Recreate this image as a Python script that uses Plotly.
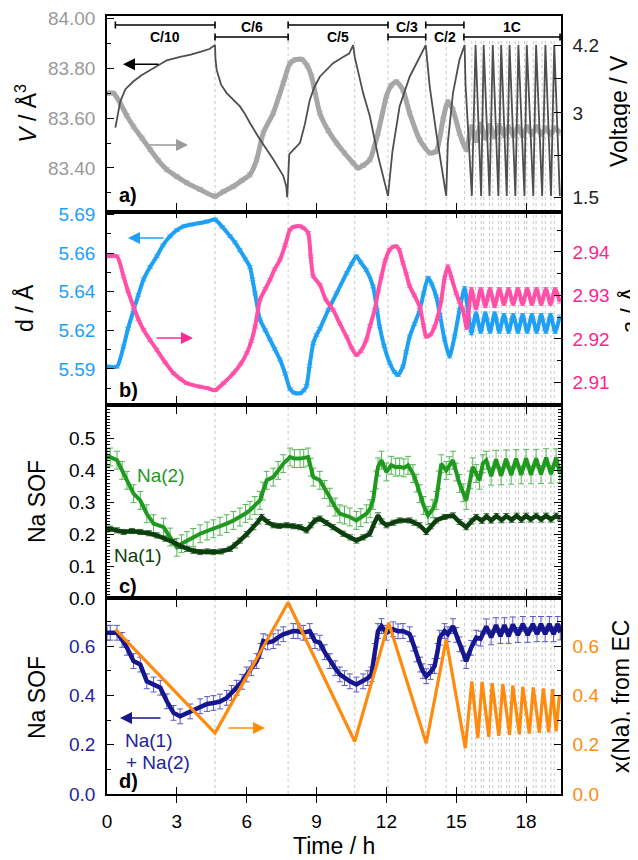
import plotly.graph_objects as go

# ---------------- data ----------------
# Panel a: unit-cell volume (left axis) and cell voltage (right axis)
t_vol = [0.0, 0.28, 0.57, 0.85, 1.14, 1.5, 1.86, 2.2, 2.57, 3.0, 3.43, 4.0, 4.64, 5.0, 5.43, 5.8, 6.14, 6.43, 6.71,
         7.14, 7.57, 7.86, 8.1, 8.36, 8.6, 8.79, 9.14, 9.5, 9.86, 10.2, 10.57, 10.78, 11.0, 11.29, 11.64, 12.0, 12.2,
         12.43, 12.71, 13.0, 13.43, 13.86, 14.14, 14.43, 14.64, 14.86, 15.14, 15.43,
         15.65, 15.85, 16.05, 16.25, 16.45, 16.65, 16.85, 17.05, 17.25, 17.45, 17.65, 17.85, 18.05, 18.25, 18.45,
         18.65, 18.85, 19.05, 19.25, 19.45]
vol = [83.70, 83.70, 83.66, 83.61, 83.566, 83.52, 83.473, 83.43, 83.393, 83.365, 83.34, 83.313, 83.286, 83.305,
       83.326, 83.35, 83.373, 83.433, 83.54, 83.62, 83.74, 83.82, 83.835, 83.836, 83.81, 83.766, 83.62, 83.55, 83.50,
       83.46, 83.42, 83.40, 83.41, 83.433, 83.54, 83.687, 83.73, 83.746, 83.713, 83.62, 83.513, 83.46, 83.466, 83.593,
       83.666, 83.633, 83.54, 83.473,
       83.565, 83.51, 83.575, 83.52, 83.57, 83.525, 83.57, 83.53, 83.565, 83.53, 83.565, 83.53, 83.565, 83.535,
       83.565, 83.535, 83.56, 83.535, 83.56, 83.54]
vol_err = 0.008

t_volt = [0.36, 0.45, 0.57, 0.79, 1.14, 1.5, 1.86, 2.2, 2.57, 3.14, 3.6, 4.0, 4.4, 4.64, 4.66, 4.71, 4.9, 5.14, 5.45,
          5.71, 5.9, 6.14, 6.57, 7.14, 7.57, 7.7, 7.74, 7.83, 8.29, 8.5, 8.71, 8.9, 9.14, 9.71, 10.14, 10.4, 10.57,
          10.64, 11.0, 11.29, 11.64, 12.0, 12.07, 12.26, 12.57, 13.0, 13.43, 13.69, 13.86, 14.14, 14.5, 14.57, 14.64,
          14.86, 15.14, 15.36, 15.40, 15.67, 15.83, 16.07, 16.18, 16.43, 16.57, 16.81, 16.93, 17.17, 17.29, 17.54,
          17.67, 17.93, 18.03, 18.31, 18.43, 18.69, 18.83, 19.07, 19.21, 19.45]
volt = [2.74, 2.95, 3.2, 3.42, 3.56, 3.67, 3.76, 3.85, 3.93, 3.99, 4.03, 4.08, 4.13, 4.2, 3.95, 3.76, 3.5, 3.35, 3.22,
        3.115, 3.0, 2.82, 2.53, 2.18, 1.886, 1.7, 1.505, 2.27, 2.47, 2.8, 3.23, 3.45, 3.64, 3.88, 3.99, 4.05, 4.2,
        3.99, 3.35, 2.94, 2.24, 1.65, 1.53, 2.32, 3.12, 3.64, 3.99, 4.2, 3.47, 2.65, 1.71, 1.53, 2.47, 3.35, 3.94,
        4.2, 3.50, 1.53, 4.2, 1.53, 4.2, 1.53, 4.2, 1.53, 4.2, 1.53, 4.2, 1.53, 4.2, 1.53, 4.2, 1.53, 4.2, 1.53,
        4.2, 1.53, 4.2, 1.53]

# Panel b: d spacing (left) and lattice parameter a (right)
t_d = [0.0, 0.43, 0.71, 0.9, 1.14, 1.35, 1.57, 1.85, 2.14, 2.4, 2.71, 3.0, 3.29, 3.6, 4.0, 4.3, 4.64, 4.95, 5.29, 5.5,
       5.71, 5.95, 6.14, 6.25, 6.36, 6.57, 6.8, 7.0, 7.2, 7.43, 7.65, 7.86, 8.05, 8.29, 8.45, 8.57, 8.7, 8.86, 9.0,
       9.14, 9.5, 9.86, 10.29, 10.5, 10.71, 10.9, 11.14, 11.43, 11.6, 11.71, 11.9, 12.14, 12.35, 12.5, 12.71, 12.85,
       13.0, 13.2, 13.43, 13.6, 13.79, 13.95, 14.14, 14.3, 14.5, 14.71, 14.93, 15.14, 15.36, 15.5,
       15.65, 15.85, 16.05, 16.25, 16.45, 16.65, 16.85, 17.05, 17.25, 17.45, 17.65, 17.85, 18.05, 18.25, 18.45,
       18.65, 18.85, 19.05, 19.25, 19.45]
d_val = [5.5915, 5.5915, 5.6045, 5.616, 5.628, 5.638, 5.648, 5.656, 5.663, 5.670, 5.676, 5.680, 5.6824, 5.6835,
         5.6846, 5.6855, 5.6868, 5.682, 5.676, 5.672, 5.667, 5.661, 5.656, 5.648, 5.639, 5.622, 5.615, 5.609, 5.603,
         5.596, 5.587, 5.577, 5.5745, 5.5742, 5.576, 5.579, 5.592, 5.6067, 5.612, 5.616, 5.628, 5.639, 5.652, 5.658,
         5.663, 5.659, 5.654, 5.6434, 5.628, 5.6175, 5.605, 5.594, 5.588, 5.586, 5.5915, 5.601, 5.611, 5.619, 5.628,
         5.639, 5.649, 5.645, 5.637, 5.625, 5.609, 5.598, 5.611, 5.628, 5.6424, 5.628,
         5.613, 5.626, 5.614, 5.626, 5.614, 5.626, 5.614, 5.625, 5.614, 5.625, 5.614, 5.625, 5.614, 5.625, 5.614,
         5.625, 5.614, 5.625, 5.614, 5.624]
d_err = 0.0009

t_a = [0.0, 0.43, 0.71, 0.9, 1.14, 1.35, 1.57, 1.85, 2.14, 2.5, 2.86, 3.15, 3.43, 4.0, 4.3, 4.64, 5.0, 5.43, 5.75, 6.0,
       6.2, 6.36, 6.57, 6.8, 7.0, 7.2, 7.43, 7.65, 7.86, 8.05, 8.29, 8.45, 8.64, 8.75, 8.86, 9.14, 9.4, 9.71, 10.0,
       10.29, 10.5, 10.71, 10.9, 11.14, 11.3, 11.5, 11.65, 11.79, 11.95, 12.14, 12.3, 12.43, 12.55, 12.71, 12.85,
       13.0, 13.2, 13.43, 13.6, 13.71, 13.9, 14.07, 14.2, 14.36, 14.5, 14.64, 14.8, 15.0, 15.14, 15.29, 15.45,
       15.65, 15.85, 16.05, 16.25, 16.45, 16.65, 16.85, 17.05, 17.25, 17.45, 17.65, 17.85, 18.05, 18.25, 18.45,
       18.65, 18.85, 19.05, 19.25, 19.45]
a_val = [2.939, 2.939, 2.9344, 2.931, 2.9274, 2.9245, 2.9221, 2.9197, 2.9175, 2.9146, 2.9121, 2.9108, 2.9098, 2.909,
         2.9087, 2.9082, 2.9098, 2.9121, 2.9143, 2.9167, 2.9195, 2.9228, 2.929, 2.9315, 2.9336, 2.936, 2.9382,
         2.9415, 2.9451, 2.9458, 2.9459, 2.9455, 2.9444, 2.939, 2.9344, 2.9325, 2.929, 2.9267, 2.9235, 2.9205, 2.918,
         2.9163, 2.9172, 2.9198, 2.923, 2.9267, 2.931, 2.9344, 2.938, 2.9405, 2.9412, 2.9413, 2.9405, 2.9375, 2.935,
         2.9321, 2.93, 2.9274, 2.923, 2.9205, 2.921, 2.9228, 2.925, 2.929, 2.934, 2.9367, 2.934, 2.9305, 2.9285,
         2.9267, 2.9225,
         2.9315, 2.927, 2.9315, 2.9275, 2.9315, 2.9275, 2.9315, 2.928, 2.9315, 2.928, 2.9315, 2.928, 2.9315, 2.928,
         2.9315, 2.928, 2.9315, 2.928, 2.9315, 2.9285]
a_err = 0.0003

# Panel c: site occupancy factors
t_na2 = [0.0, 0.14, 0.43, 0.65, 0.86, 1.14, 1.43, 1.71, 2.0, 2.43, 2.71, 3.0, 3.2, 3.43, 3.7, 4.0, 4.3, 4.57, 4.85,
         5.14, 5.43, 5.71, 5.95, 6.14, 6.35, 6.57, 6.7, 6.86, 7.14, 7.35, 7.57, 7.86, 8.05, 8.29, 8.45, 8.64, 8.75,
         8.86, 9.14, 9.35, 9.57, 9.8, 10.0, 10.2, 10.43, 10.71, 10.9, 11.14, 11.3, 11.43, 11.55, 11.64, 11.79, 12.0,
         12.21, 12.4, 12.57, 12.75, 12.93, 13.14, 13.3, 13.43, 13.6, 13.79, 14.0, 14.14, 14.25, 14.36, 14.57, 14.7,
         14.86, 15.0, 15.14, 15.3, 15.43, 15.6, 15.71, 15.86, 16.0, 16.14, 16.29, 16.5, 16.71, 16.93, 17.14, 17.36,
         17.57, 17.79, 18.0, 18.21, 18.43, 18.64, 18.86, 19.07, 19.29, 19.45]
na2 = [0.44, 0.442, 0.432, 0.40, 0.369, 0.327, 0.306, 0.264, 0.233, 0.222, 0.191, 0.159, 0.17, 0.180, 0.19, 0.2015,
       0.21, 0.217, 0.225, 0.233, 0.243, 0.254, 0.265, 0.275, 0.29, 0.306, 0.335, 0.369, 0.379, 0.40, 0.421, 0.442,
       0.437, 0.437, 0.438, 0.442, 0.41, 0.379, 0.369, 0.34, 0.316, 0.285, 0.264, 0.26, 0.254, 0.243, 0.252, 0.264,
       0.28, 0.306, 0.37, 0.411, 0.432, 0.395, 0.416, 0.41, 0.411, 0.408, 0.416, 0.390, 0.36, 0.327, 0.29, 0.259,
       0.28, 0.306, 0.37, 0.421, 0.400, 0.415, 0.432, 0.395, 0.359, 0.33, 0.306, 0.37, 0.411, 0.39, 0.369, 0.421,
       0.432, 0.382, 0.435, 0.383, 0.436, 0.385, 0.437, 0.386, 0.438, 0.386, 0.438, 0.387, 0.44, 0.388, 0.44, 0.39]
na2_err = 0.028

t_na1 = [0.0, 0.14, 0.43, 0.71, 1.07, 1.43, 1.8, 2.14, 2.5, 2.86, 3.15, 3.43, 3.7, 4.0, 4.3, 4.57, 4.9, 5.29, 5.5,
         5.71, 6.0, 6.29, 6.5, 6.64, 6.9, 7.14, 7.4, 7.71, 8.0, 8.29, 8.57, 8.75, 8.93, 9.14, 9.4, 9.71, 10.14,
         10.45, 10.71, 11.0, 11.29, 11.45, 11.64, 11.8, 12.0, 12.3, 12.57, 13.0, 13.2, 13.43, 13.71, 13.9, 14.14,
         14.5, 14.86, 15.14, 15.43, 15.65, 15.86, 16.1, 16.3, 16.5, 16.73, 16.95, 17.15, 17.38, 17.6, 17.8, 18.0,
         18.2, 18.43, 18.65, 18.86, 19.07, 19.29, 19.45]
na1 = [0.215, 0.217, 0.212, 0.207, 0.21, 0.207, 0.203, 0.196, 0.186, 0.175, 0.163, 0.154, 0.148, 0.144, 0.146, 0.144,
       0.146, 0.154, 0.165, 0.180, 0.2, 0.222, 0.24, 0.254, 0.238, 0.228, 0.226, 0.228, 0.225, 0.222, 0.212, 0.228,
       0.243, 0.249, 0.235, 0.222, 0.2015, 0.19, 0.180, 0.19, 0.2015, 0.23, 0.259, 0.24, 0.228, 0.236, 0.243, 0.243,
       0.236, 0.228, 0.207, 0.225, 0.243, 0.254, 0.259, 0.238, 0.222, 0.24, 0.254, 0.242, 0.256, 0.243, 0.257,
       0.244, 0.257, 0.245, 0.258, 0.245, 0.258, 0.246, 0.258, 0.246, 0.258, 0.246, 0.258, 0.25]
na1_err = 0.008

# Panel d: total Na occupancy (left) and x(Na) from electrochemistry (right)
t_nas = [0.0, 0.14, 0.43, 0.65, 0.86, 1.14, 1.43, 1.71, 2.0, 2.29, 2.57, 2.86, 3.14, 3.57, 4.0, 4.3, 4.57, 4.85, 5.14,
         5.35, 5.57, 5.8, 6.0, 6.2, 6.43, 6.6, 6.71, 6.9, 7.14, 7.35, 7.57, 8.0, 8.2, 8.43, 8.71, 8.93, 9.14, 9.35,
         9.57, 9.8, 10.0, 10.2, 10.43, 10.71, 11.0, 11.2, 11.36, 11.5, 11.64, 11.79, 12.0, 12.29, 12.5, 12.71, 13.0,
         13.15, 13.29, 13.45, 13.57, 13.71, 13.9, 14.07, 14.2, 14.29, 14.5, 14.64, 14.86, 15.0, 15.14, 15.3, 15.43,
         15.64, 15.86, 16.05, 16.29, 16.5, 16.71, 16.9, 17.07, 17.25, 17.43, 17.65, 17.86, 18.07, 18.29, 18.47,
         18.64, 18.82, 19.0, 19.18, 19.36, 19.47]
nas = [0.654, 0.654, 0.654, 0.625, 0.593, 0.539, 0.525, 0.457, 0.444, 0.431, 0.376, 0.329, 0.315, 0.335, 0.356,
       0.365, 0.369, 0.375, 0.390, 0.41, 0.431, 0.455, 0.485, 0.51, 0.539, 0.58, 0.620, 0.615, 0.620, 0.635, 0.648,
       0.661, 0.66, 0.654, 0.661, 0.620, 0.614, 0.575, 0.539, 0.51, 0.485, 0.47, 0.457, 0.444, 0.457, 0.47, 0.485,
       0.58, 0.661, 0.681, 0.654, 0.668, 0.66, 0.661, 0.648, 0.61, 0.566, 0.525, 0.498, 0.478, 0.495, 0.519, 0.58,
       0.634, 0.661, 0.648, 0.681, 0.645, 0.607, 0.57, 0.539, 0.593, 0.634, 0.63, 0.68, 0.635, 0.685, 0.64, 0.685,
       0.64, 0.688, 0.645, 0.69, 0.645, 0.69, 0.648, 0.69, 0.648, 0.69, 0.648, 0.69, 0.655]
nas_err = 0.03

t_xna = [0.36, 4.64, 7.78, 10.64, 12.1, 13.71, 14.57, 15.39, 15.67, 15.93, 16.11, 16.40, 16.54, 16.83, 17.0, 17.29,
         17.43, 17.71, 17.86, 18.14, 18.31, 18.57, 18.74, 18.97, 19.14, 19.29, 19.43]
xna = [0.668, 0.247, 0.777, 0.213, 0.695, 0.206, 0.627, 0.186, 0.457, 0.227, 0.455, 0.232, 0.45, 0.236, 0.446, 0.24,
       0.44, 0.242, 0.435, 0.245, 0.432, 0.248, 0.428, 0.25, 0.425, 0.254, 0.40]

# C-rate segments and step boundaries (h)
rate_labels = ["C/10", "C/6", "C/5", "C/3", "C/2", "1C"]
rate_start = [0.36, 4.64, 7.78, 12.07, 13.69, 15.33]
rate_end = [4.64, 7.78, 12.07, 13.69, 15.33, 19.46]
step_marks = [4.64, 7.78, 10.64, 12.07, 13.69, 14.57, 15.36, 15.67, 15.83, 16.07, 16.18, 16.43, 16.57, 16.81, 16.93,
              17.17, 17.29, 17.54, 17.67, 17.93, 18.03, 18.31, 18.43, 18.69, 18.83, 19.07, 19.21]

# tick labels
sof_c_ticks = [0.0, 0.1, 0.2, 0.3, 0.4, 0.5, 0.6]
sof_c_text = ["0.0", "0.1", "0.2", "0.3", "0.4", "0.5", ""]

# ---------------- layout geometry ----------------
# the page body adds an 8 px offset, so margins are 8 px smaller on the left/top
W, HF = 638, 860
OFF = 8
PL, PR, PT, PB = 107, 561, 16, 794          # plot area on screen (px)
PW = PR - PL
PH = PB - PT
ML, MT = PL - OFF, PT - OFF
MR = W - ML - PW
MB = HF - MT - PH
FONT = "Liberation Sans, Arial, sans-serif"


def px_x(px):
    return (px - PL) / PW


def px_y(py):
    return (PB - py) / PH


dom_a = [px_y(211.5), 1.0]
dom_b = [px_y(405), px_y(211.5)]
dom_c = [px_y(598), px_y(405)]
dom_d = [0.0, px_y(598)]

C_GRAY = "#a6a6a6"
C_VOLT = "#4f4f4f"
C_BLUE = "#1ea0f5"
C_PINK = "#ff4fa7"
C_PINKT = "#ff1f8e"
C_GREEN = "#1f9a1f"
C_DKGREEN = "#0b3f0b"
C_NAVY = "#16168f"
C_NAVYT = "#2323a0"
C_ORANGE = "#ff8a0d"

fig = go.Figure()


def err(v, c):
    return dict(type="constant", value=v, color=c, thickness=1, width=3)


fig.add_trace(go.Scatter(x=t_vol, y=vol, mode="lines", xaxis="x", yaxis="y",
                         line=dict(color=C_GRAY, width=5, shape="spline", smoothing=0.6),
                         error_y=err(vol_err, "#c2c2c2")))
fig.add_trace(go.Scatter(x=t_volt, y=volt, mode="lines", xaxis="x", yaxis="y2",
                         line=dict(color=C_VOLT, width=1.8)))

fig.add_trace(go.Scatter(x=t_d, y=d_val, mode="lines", xaxis="x2", yaxis="y3",
                         line=dict(color=C_BLUE, width=4, shape="spline", smoothing=0.6),
                         error_y=err(d_err, "#62bdf8")))
fig.add_trace(go.Scatter(x=t_a, y=a_val, mode="lines", xaxis="x2", yaxis="y4",
                         line=dict(color=C_PINK, width=4, shape="spline", smoothing=0.6),
                         error_y=err(a_err, "#ff8cc6")))

fig.add_trace(go.Scatter(x=t_na2, y=na2, mode="lines", xaxis="x3", yaxis="y5",
                         line=dict(color=C_GREEN, width=4),
                         error_y=err(na2_err, "#55b855")))
fig.add_trace(go.Scatter(x=t_na1, y=na1, mode="lines", xaxis="x3", yaxis="y5",
                         line=dict(color=C_DKGREEN, width=4.5),
                         error_y=err(na1_err, "#3f6f3f")))
fig.add_trace(go.Scatter(x=[], y=[], mode="lines", xaxis="x3", yaxis="y6"))

fig.add_trace(go.Scatter(x=t_nas, y=nas, mode="lines", xaxis="x4", yaxis="y7",
                         line=dict(color=C_NAVY, width=4.5),
                         error_y=err(nas_err, "#5a5ac8")))
fig.add_trace(go.Scatter(x=t_xna, y=xna, mode="lines", xaxis="x4", yaxis="y8",
                         line=dict(color=C_ORANGE, width=3.2)))

base = dict(showline=True, linecolor="black", linewidth=1.5, ticks="inside", ticklen=7, tickwidth=1.3,
            tickcolor="black", showgrid=False, zeroline=False, ticklabelstandoff=6)
xbase = dict(base, range=[0, 19.5], tickmode="linear", tick0=0, dtick=3, domain=[0, 1])

fig.update_layout(
    width=W, height=HF, margin=dict(l=ML, r=MR, t=MT, b=MB, autoexpand=False),
    paper_bgcolor="white", plot_bgcolor="white", showlegend=False, hovermode=False,
    font=dict(family=FONT, size=19, color="black"),
    xaxis=dict(xbase, anchor="y", showticklabels=False, mirror=True),
    xaxis2=dict(xbase, anchor="y3", showticklabels=False, mirror="allticks"),
    xaxis3=dict(xbase, anchor="y5", showticklabels=False, mirror="allticks"),
    xaxis4=dict(xbase, anchor="y7", showticklabels=True, mirror="allticks",
                tickfont=dict(size=19, color="black"), ticklabelstandoff=9),
    yaxis=dict(base, domain=dom_a, anchor="x", range=[83.225, 84.01], tickmode="linear", tick0=83.4, dtick=0.2,
               tickformat=".2f", tickfont=dict(color="#9a9a9a", size=19),
               minor=dict(ticks="inside", dtick=0.1, tick0=83.3, ticklen=4, tickcolor="black")),
    yaxis2=dict(base, overlaying="y", side="right", anchor="x", range=[1.254, 4.715], tickmode="array",
                tickvals=[1.5, 2.25, 3, 3.6, 4.2], ticktext=["1.5", "", "3", "", "4.2"],
                tickfont=dict(color="#222222", size=19)),
    yaxis3=dict(base, domain=dom_b, anchor="x2", range=[5.5666, 5.692], tickmode="array",
                tickvals=[5.59, 5.615, 5.64, 5.665, 5.69], ticktext=["5.59", "5.62", "5.64", "5.66", "5.69"],
                tickfont=dict(color=C_BLUE, size=19),
                minor=dict(ticks="inside", tickmode="array",
                           tickvals=[5.5775, 5.6025, 5.6275, 5.6525, 5.6775], ticklen=4, tickcolor="black")),
    yaxis4=dict(base, overlaying="y3", side="right", anchor="x2", range=[2.9048, 2.9493], tickmode="linear",
                tick0=2.91, dtick=0.01, tickformat=".2f", tickfont=dict(color=C_PINKT, size=19),
                minor=dict(ticks="inside", dtick=0.005, tick0=2.905, ticklen=4, tickcolor="black")),
    yaxis5=dict(base, domain=dom_c, anchor="x3", range=[0, 0.605], tickmode="array", tickvals=sof_c_ticks,
                ticktext=sof_c_text, tickfont=dict(color="black", size=19),
                minor=dict(ticks="inside", tickmode="linear", dtick=0.01, tick0=0, ticklen=3, tickcolor="black",
                           tickwidth=1)),
    yaxis6=dict(base, overlaying="y5", side="right", anchor="x3", range=[0, 0.605], tickmode="array",
                tickvals=sof_c_ticks, showticklabels=False,
                minor=dict(ticks="inside", tickmode="linear", dtick=0.01, tick0=0, ticklen=3, tickcolor="black",
                           tickwidth=1)),
    yaxis7=dict(base, domain=dom_d, anchor="x4", range=[0, 0.795], tickmode="linear", tick0=0, dtick=0.2,
                tickformat=".1f", tickfont=dict(color=C_NAVYT, size=19),
                minor=dict(ticks="inside", dtick=0.1, tick0=0, ticklen=4, tickcolor="black")),
    yaxis8=dict(base, overlaying="y7", side="right", anchor="x4", range=[0, 0.795], tickmode="linear", tick0=0,
                dtick=0.2, tickformat=".1f", tickfont=dict(color=C_ORANGE, size=19),
                minor=dict(ticks="inside", dtick=0.1, tick0=0, ticklen=4, tickcolor="black")),
)

shapes = []
for tm in step_marks:
    shapes.append(dict(type="line", xref="x", yref="paper", x0=tm, x1=tm, y0=0, y1=px_y(40), layer="below",
                       line=dict(color="#c8c8c8", width=1, dash="dot")))

annotations = []
row_y = [px_y(25), px_y(37)]
lab_y = [px_y(36.5), px_y(27)]
cap = 3.5 / PH
for i, (lab, s, e) in enumerate(zip(rate_labels, rate_start, rate_end)):
    yb = row_y[i % 2]
    shapes.append(dict(type="line", xref="x", yref="paper", x0=s, x1=e, y0=yb, y1=yb,
                       line=dict(color="black", width=1.6)))
    for xe in (s, e):
        shapes.append(dict(type="line", xref="x", yref="paper", x0=xe, x1=xe, y0=yb - cap, y1=yb + cap,
                           line=dict(color="black", width=1.6)))
    annotations.append(dict(text="<b>%s</b>" % lab, x=(s + e) / 2, y=lab_y[i % 2], xref="x", yref="paper",
                            showarrow=False, font=dict(size=14, color="black"), xanchor="center",
                            yanchor="middle"))


def txt(text, px, py, size=23, color="black", angle=0):
    annotations.append(dict(text=text, x=px_x(px), y=px_y(py), xref="paper", yref="paper", showarrow=False,
                            textangle=angle, font=dict(size=size, color=color), xanchor="center",
                            yanchor="middle"))


def arrow(px_head, py, dx, color):
    annotations.append(dict(text="", x=px_x(px_head), y=px_y(py), xref="paper", yref="paper", showarrow=True,
                            ax=dx, ay=0, arrowhead=2, arrowsize=1.6, arrowwidth=1.5, arrowcolor=color))


# axis titles
txt("<i>V</i> / Å<sup>3</sup>", 26, 113.75, angle=-90)
txt("Voltage / V", 619, 111, angle=-90)
txt("d / Å", 24, 308, angle=-90)
txt("<i>a</i> / Å", 630, 310, angle=-90)
txt("Na SOF", 37, 502, angle=-90)
txt("Na SOF", 37, 698, angle=-90)
txt("x(Na), from EC", 621, 697, angle=-90)
txt("Time / h", 334, 846)

# panel labels
txt("<b>a)</b>", 128, 194.5, size=20)
txt("<b>b)</b>", 128, 389.5, size=20)
txt("<b>c)</b>", 128, 585.5, size=20)
txt("<b>d)</b>", 128, 781, size=20)

# series labels
txt("Na(2)", 161, 475, size=19, color=C_GREEN)
txt("Na(1)", 138, 555, size=19, color=C_DKGREEN)
txt("Na(1)", 149, 740, size=19, color=C_NAVYT)
txt("+ Na(2)", 158, 762, size=19, color=C_NAVYT)

# arrows
arrow(123, 64.3, 37, "black")
arrow(188, 145, -40, "#9a9a9a")
arrow(128, 238, 37, C_BLUE)
arrow(193, 338, -38, "#ff2a90")
arrow(120, 718, 42, C_NAVY)
arrow(265, 728, -38, C_ORANGE)

fig.update_layout(shapes=shapes, annotations=annotations)
fig.write_html("out.html", config={"displayModeBar": False})
